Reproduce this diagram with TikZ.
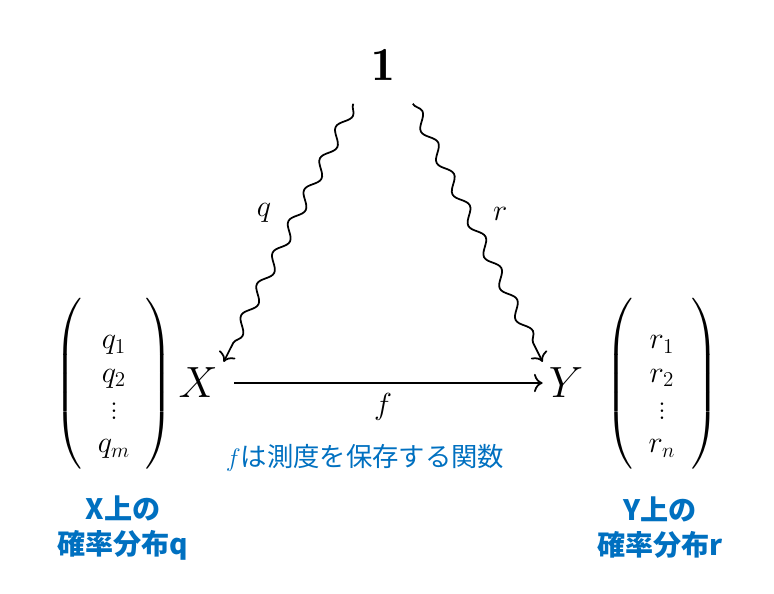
\documentclass[tikz,border=0pt]{standalone}
\usepackage{amsmath}
\usepackage{amssymb}
\usepackage{fontspec}
\newfontfamily\cjk{Noto Sans CJK JP}
\usetikzlibrary{arrows.meta,decorations.pathmorphing,positioning}
\definecolor{noteblue}{HTML}{0070C0}

\begin{document}
\begin{tikzpicture}[x=0.02cm,y=-0.02cm,
  obj/.style={font=\fontsize{27}{32}\selectfont},
  vec/.style={inner sep=0pt,font=\fontsize{18}{19}\selectfont},
  lbl/.style={font=\fontsize{19}{22}\selectfont},
  note/.style={text=noteblue,font=\cjk\fontsize{15}{18}\selectfont},
  dist/.style={text=noteblue,align=center,font=\cjk\bfseries\fontsize{16}{20}\selectfont},
  squig/.style={-{To[scale=1.3]},line width=1pt,decorate,
    decoration={snake,amplitude=3pt,segment length=20pt,post length=9pt}}]
\useasboundingbox (0,0) rectangle (774,594);

\node[obj,inner xsep=10pt,inner ysep=13pt] (one) at (383,65) {$\mathbf{1}$};
\node[obj] (X) at (198,383) {$X$};
\node[obj] (Y) at (566,383) {$Y$};

\node[vec] (qv) at (114,384) {$\left(\rule[-46pt]{0pt}{100pt}\hspace{4pt}\raisebox{-6pt}{$\begin{array}{c}q_1\\q_2\\\vdots\\q_m\end{array}$}\hspace{4pt}\right)$};
\node[vec] (rv) at (662,384) {$\left(\rule[-46pt]{0pt}{100pt}\hspace{4pt}\raisebox{-6pt}{$\begin{array}{c}r_1\\r_2\\\vdots\\r_n\end{array}$}\hspace{4pt}\right)$};

\draw[squig] (one.south west) -- node[lbl,above left=2pt and 6pt] {$q$} (X.north east);
\draw[squig] (one.south east) -- node[lbl,above right=3pt and 5pt] {$r$} (Y.north west);
\draw[-{To[scale=1.3]},line width=1pt,shorten <=6pt] (X) -- node[lbl,below=2pt] (fl) {$f$} (Y);

\node[note] (fnote) at (365,458) {$f$は測度を保存する関数};
\node[dist] (qd) at (123,528) {X上の\\確率分布q};
\node[dist] (rd) at (660,528) {Y上の\\確率分布r};

\end{tikzpicture}
\end{document}
